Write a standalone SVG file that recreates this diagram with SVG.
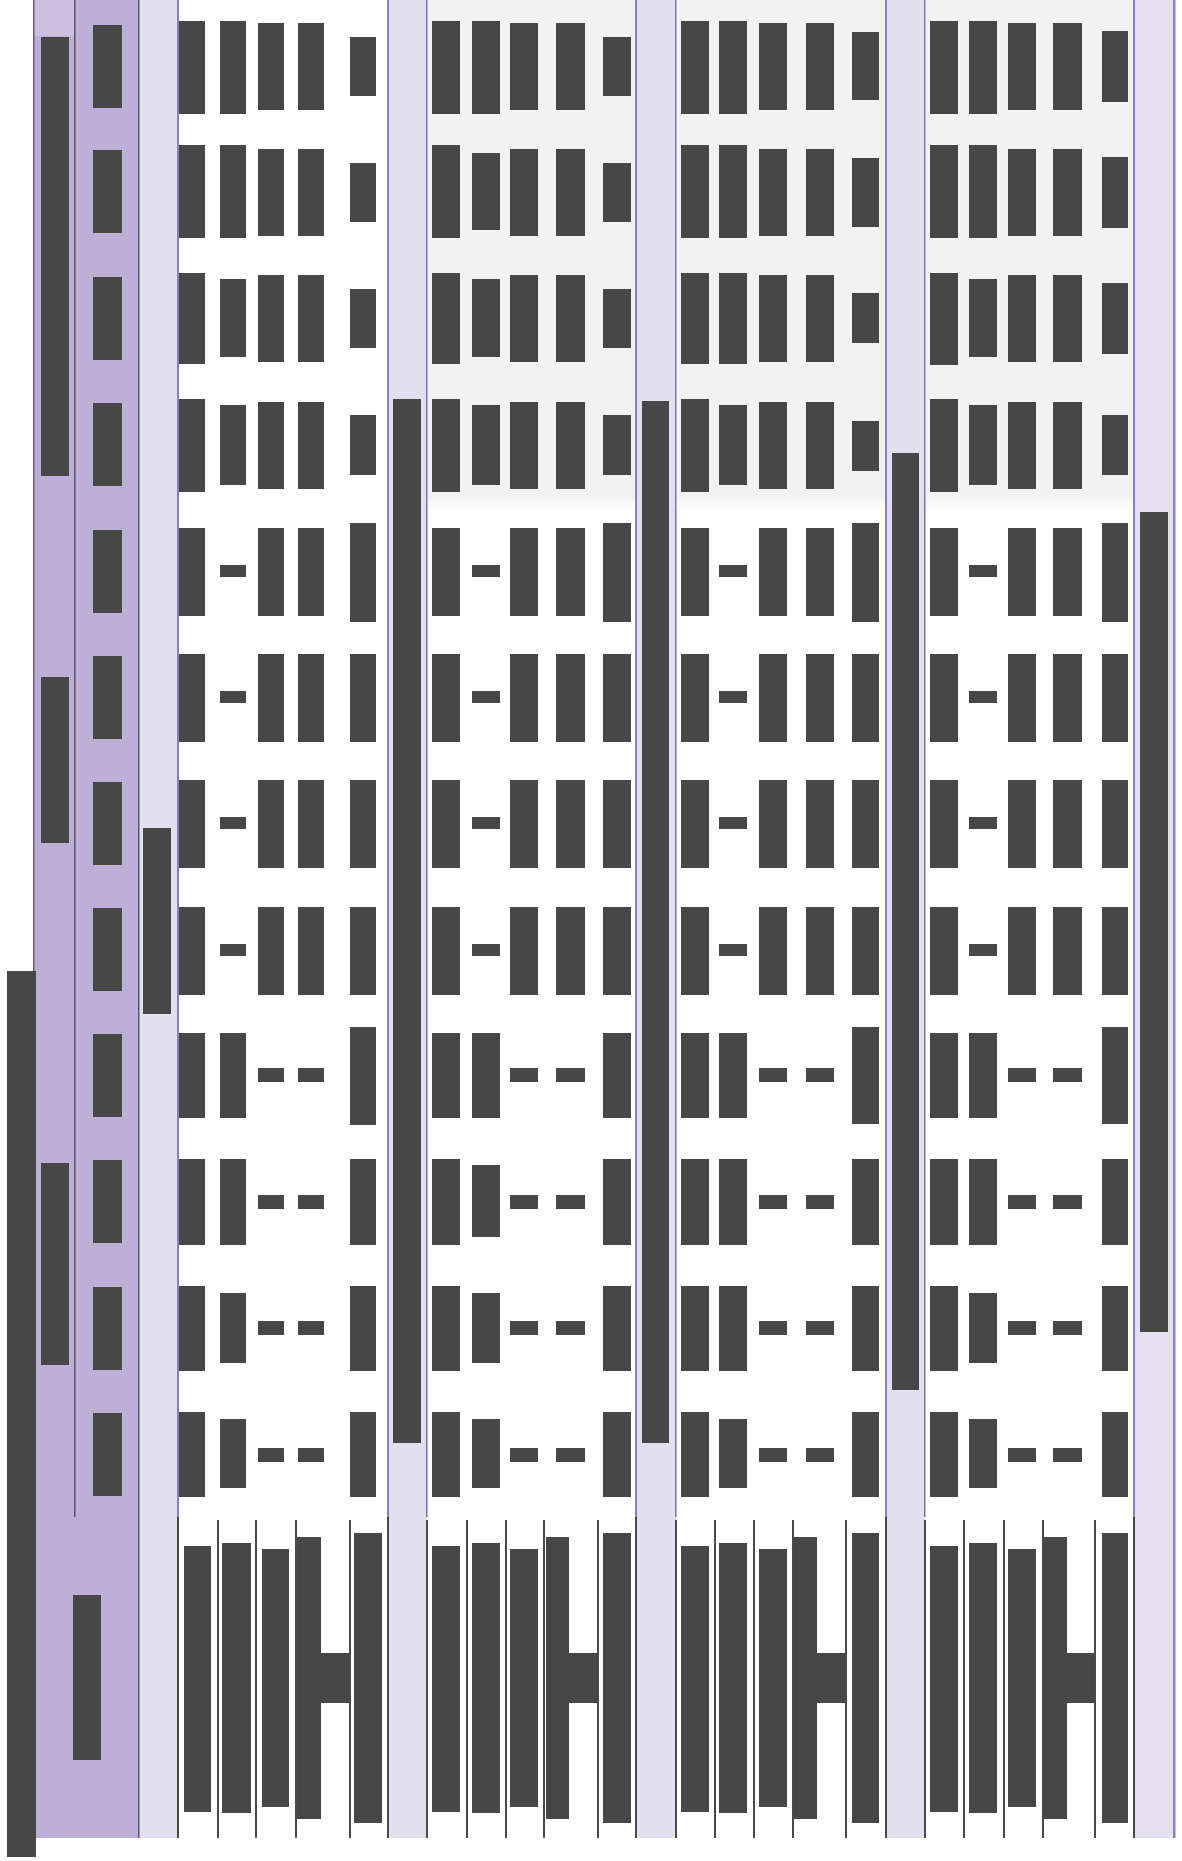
<svg xmlns="http://www.w3.org/2000/svg" width="1182" height="1861" viewBox="0 0 1182 1861">
<defs>
<style>
.d{fill:#474747}
.st{fill:#e2dfee}
.pb{fill:#8d7cc0}
.pt{fill:#7d6fae}
.ln{fill:#4a4a4a}
</style>
<linearGradient id="gray" x1="0" y1="0" x2="0" y2="1">
<stop offset="0" stop-color="#f2f2f2"/>
<stop offset="0.965" stop-color="#f2f2f2"/>
<stop offset="1" stop-color="#ffffff"/>
</linearGradient>
</defs>
<rect width="1182" height="1861" fill="#ffffff"/>

<g id="backgrounds">
<rect x="428" y="0" width="207" height="512" fill="url(#gray)"/>
<rect x="677" y="0" width="208" height="512" fill="url(#gray)"/>
<rect x="926" y="0" width="207" height="512" fill="url(#gray)"/>
<rect x="33" y="0" width="106" height="1838" fill="#bdb0d7"/>
<rect x="35" y="0" width="39" height="36" fill="#cbc0e0"/>
<rect x="139" y="0" width="38" height="1838" class="st"/>
<rect x="388" y="0" width="39" height="1838" class="st"/>
<rect x="636" y="0" width="40" height="1838" class="st"/>
<rect x="886" y="0" width="39" height="1838" class="st"/>
<rect x="1134" y="0" width="40" height="1838" fill="#e5e0ef"/>
</g>

<g id="borders">
<rect x="33" y="0" width="1.5" height="1838" fill="#6a5e86"/>
<rect x="74" y="0" width="1.5" height="1517" fill="#5b516e"/>
<rect x="138" y="0" width="1.5" height="1838" fill="#5b516e"/>
<rect x="177" y="0" width="2" height="1517" class="pb"/>
<rect x="387" y="0" width="2" height="1517" class="pb"/>
<rect x="426" y="0" width="1.5" height="1517" class="pt"/>
<rect x="635" y="0" width="2" height="1517" class="pb"/>
<rect x="675" y="0" width="1.5" height="1517" class="pt"/>
<rect x="885" y="0" width="2" height="1517" class="pb"/>
<rect x="924" y="0" width="1.5" height="1517" class="pt"/>
<rect x="1133" y="0" width="2" height="1517" class="pb"/>
<rect x="1173" y="0" width="2.5" height="1838" class="pb"/>
</g>

<g id="left-panel">
<rect class="d" x="7" y="971" width="29" height="886"/>
<rect class="d" x="41" y="37" width="28" height="439"/>
<rect class="d" x="41" y="677" width="28" height="166"/>
<rect class="d" x="41" y="1163" width="28" height="202"/>
<rect class="d" x="93" y="25" width="29" height="83"/>
<rect class="d" x="93" y="150" width="29" height="83"/>
<rect class="d" x="93" y="277" width="29" height="83"/>
<rect class="d" x="93" y="403" width="29" height="83"/>
<rect class="d" x="93" y="530" width="29" height="83"/>
<rect class="d" x="93" y="656" width="29" height="83"/>
<rect class="d" x="93" y="782" width="29" height="83"/>
<rect class="d" x="93" y="908" width="29" height="83"/>
<rect class="d" x="93" y="1034" width="29" height="83"/>
<rect class="d" x="93" y="1160" width="29" height="83"/>
<rect class="d" x="93" y="1287" width="29" height="83"/>
<rect class="d" x="93" y="1413" width="29" height="83"/>
<rect class="d" x="73" y="1595" width="28" height="165"/>
</g>

<g id="strip-bars">
<rect class="d" x="143" y="828" width="28" height="186"/>
<rect class="d" x="393" y="399" width="28" height="1044"/>
<rect class="d" x="642" y="401" width="27" height="1042"/>
<rect class="d" x="892" y="453" width="27" height="937"/>
<rect class="d" x="1140" y="512" width="28" height="820"/>
</g>

<g id="section-a">
<rect class="d" x="179" y="21" width="26" height="93"/><rect class="d" x="220" y="21" width="26" height="93"/><rect class="d" x="258" y="23" width="26" height="87"/><rect class="d" x="298" y="23" width="26" height="87"/><rect class="d" x="350" y="37" width="26" height="59"/>
<rect class="d" x="179" y="145" width="26" height="93"/><rect class="d" x="220" y="145" width="26" height="93"/><rect class="d" x="258" y="149" width="26" height="87"/><rect class="d" x="298" y="149" width="26" height="87"/><rect class="d" x="350" y="163" width="26" height="59"/>
<rect class="d" x="179" y="273" width="26" height="91"/><rect class="d" x="220" y="279" width="26" height="78"/><rect class="d" x="258" y="275" width="26" height="87"/><rect class="d" x="298" y="275" width="26" height="87"/><rect class="d" x="350" y="289" width="26" height="59"/>
<rect class="d" x="179" y="399" width="26" height="93"/><rect class="d" x="220" y="405" width="26" height="80"/><rect class="d" x="258" y="402" width="26" height="87"/><rect class="d" x="298" y="402" width="26" height="87"/><rect class="d" x="350" y="415" width="26" height="60"/>
<rect class="d" x="179" y="528" width="26" height="88"/><rect class="d" x="220" y="565" width="26" height="12"/><rect class="d" x="258" y="528" width="26" height="88"/><rect class="d" x="298" y="528" width="26" height="88"/><rect class="d" x="350" y="523" width="26" height="99"/>
<rect class="d" x="179" y="654" width="26" height="88"/><rect class="d" x="220" y="691" width="26" height="12"/><rect class="d" x="258" y="654" width="26" height="88"/><rect class="d" x="298" y="654" width="26" height="88"/><rect class="d" x="350" y="654" width="26" height="88"/>
<rect class="d" x="179" y="780" width="26" height="88"/><rect class="d" x="220" y="817" width="26" height="12"/><rect class="d" x="258" y="780" width="26" height="88"/><rect class="d" x="298" y="780" width="26" height="88"/><rect class="d" x="350" y="780" width="26" height="88"/>
<rect class="d" x="179" y="907" width="26" height="88"/><rect class="d" x="220" y="944" width="26" height="12"/><rect class="d" x="258" y="907" width="26" height="88"/><rect class="d" x="298" y="907" width="26" height="88"/><rect class="d" x="350" y="907" width="26" height="88"/>
<rect class="d" x="179" y="1033" width="26" height="85"/><rect class="d" x="220" y="1033" width="26" height="85"/><rect class="d" x="258" y="1068" width="26" height="14"/><rect class="d" x="298" y="1068" width="26" height="14"/><rect class="d" x="350" y="1027" width="26" height="98"/>
<rect class="d" x="179" y="1159" width="26" height="86"/><rect class="d" x="220" y="1159" width="26" height="86"/><rect class="d" x="258" y="1195" width="26" height="14"/><rect class="d" x="298" y="1195" width="26" height="14"/><rect class="d" x="350" y="1159" width="26" height="86"/>
<rect class="d" x="179" y="1286" width="26" height="85"/><rect class="d" x="220" y="1293" width="26" height="70"/><rect class="d" x="258" y="1321" width="26" height="14"/><rect class="d" x="298" y="1321" width="26" height="14"/><rect class="d" x="350" y="1286" width="26" height="85"/>
<rect class="d" x="179" y="1412" width="26" height="85"/><rect class="d" x="220" y="1419" width="26" height="69"/><rect class="d" x="258" y="1448" width="26" height="14"/><rect class="d" x="298" y="1448" width="26" height="14"/><rect class="d" x="350" y="1412" width="26" height="85"/>
</g>

<g id="section-b">
<rect class="d" x="432" y="21" width="28" height="93"/><rect class="d" x="472" y="21" width="28" height="93"/><rect class="d" x="510" y="23" width="28" height="87"/><rect class="d" x="556" y="23" width="29" height="87"/><rect class="d" x="603" y="37" width="28" height="59"/>
<rect class="d" x="432" y="145" width="28" height="93"/><rect class="d" x="472" y="153" width="28" height="77"/><rect class="d" x="510" y="149" width="28" height="87"/><rect class="d" x="556" y="149" width="29" height="87"/><rect class="d" x="603" y="163" width="28" height="59"/>
<rect class="d" x="432" y="273" width="28" height="91"/><rect class="d" x="472" y="279" width="28" height="78"/><rect class="d" x="510" y="275" width="28" height="87"/><rect class="d" x="556" y="275" width="29" height="87"/><rect class="d" x="603" y="289" width="28" height="59"/>
<rect class="d" x="432" y="399" width="28" height="93"/><rect class="d" x="472" y="405" width="28" height="80"/><rect class="d" x="510" y="402" width="28" height="87"/><rect class="d" x="556" y="402" width="29" height="87"/><rect class="d" x="603" y="415" width="28" height="60"/>
<rect class="d" x="432" y="528" width="28" height="88"/><rect class="d" x="472" y="565" width="28" height="12"/><rect class="d" x="510" y="528" width="28" height="88"/><rect class="d" x="556" y="528" width="29" height="88"/><rect class="d" x="603" y="523" width="28" height="99"/>
<rect class="d" x="432" y="654" width="28" height="88"/><rect class="d" x="472" y="691" width="28" height="12"/><rect class="d" x="510" y="654" width="28" height="88"/><rect class="d" x="556" y="654" width="29" height="88"/><rect class="d" x="603" y="654" width="28" height="88"/>
<rect class="d" x="432" y="780" width="28" height="88"/><rect class="d" x="472" y="817" width="28" height="12"/><rect class="d" x="510" y="780" width="28" height="88"/><rect class="d" x="556" y="780" width="29" height="88"/><rect class="d" x="603" y="780" width="28" height="88"/>
<rect class="d" x="432" y="907" width="28" height="88"/><rect class="d" x="472" y="944" width="28" height="12"/><rect class="d" x="510" y="907" width="28" height="88"/><rect class="d" x="556" y="907" width="29" height="88"/><rect class="d" x="603" y="907" width="28" height="88"/>
<rect class="d" x="432" y="1033" width="28" height="85"/><rect class="d" x="472" y="1033" width="28" height="85"/><rect class="d" x="510" y="1068" width="28" height="14"/><rect class="d" x="556" y="1068" width="29" height="14"/><rect class="d" x="603" y="1033" width="28" height="85"/>
<rect class="d" x="432" y="1159" width="28" height="86"/><rect class="d" x="472" y="1165" width="28" height="72"/><rect class="d" x="510" y="1195" width="28" height="14"/><rect class="d" x="556" y="1195" width="29" height="14"/><rect class="d" x="603" y="1159" width="28" height="86"/>
<rect class="d" x="432" y="1286" width="28" height="85"/><rect class="d" x="472" y="1293" width="28" height="70"/><rect class="d" x="510" y="1321" width="28" height="14"/><rect class="d" x="556" y="1321" width="29" height="14"/><rect class="d" x="603" y="1286" width="28" height="85"/>
<rect class="d" x="432" y="1412" width="28" height="85"/><rect class="d" x="472" y="1419" width="28" height="69"/><rect class="d" x="510" y="1448" width="28" height="14"/><rect class="d" x="556" y="1448" width="29" height="14"/><rect class="d" x="603" y="1412" width="28" height="85"/>
</g>

<g id="section-c">
<rect class="d" x="681" y="21" width="28" height="93"/><rect class="d" x="719" y="21" width="28" height="93"/><rect class="d" x="759" y="23" width="28" height="87"/><rect class="d" x="806" y="23" width="28" height="87"/><rect class="d" x="852" y="32" width="27" height="68"/>
<rect class="d" x="681" y="145" width="28" height="93"/><rect class="d" x="719" y="145" width="28" height="93"/><rect class="d" x="759" y="149" width="28" height="87"/><rect class="d" x="806" y="149" width="28" height="87"/><rect class="d" x="852" y="158" width="27" height="69"/>
<rect class="d" x="681" y="273" width="28" height="91"/><rect class="d" x="719" y="273" width="28" height="91"/><rect class="d" x="759" y="275" width="28" height="87"/><rect class="d" x="806" y="275" width="28" height="87"/><rect class="d" x="852" y="293" width="27" height="50"/>
<rect class="d" x="681" y="399" width="28" height="93"/><rect class="d" x="719" y="405" width="28" height="80"/><rect class="d" x="759" y="402" width="28" height="87"/><rect class="d" x="806" y="402" width="28" height="87"/><rect class="d" x="852" y="421" width="27" height="50"/>
<rect class="d" x="681" y="528" width="28" height="88"/><rect class="d" x="719" y="565" width="28" height="12"/><rect class="d" x="759" y="528" width="28" height="88"/><rect class="d" x="806" y="528" width="28" height="88"/><rect class="d" x="852" y="523" width="27" height="99"/>
<rect class="d" x="681" y="654" width="28" height="88"/><rect class="d" x="719" y="691" width="28" height="12"/><rect class="d" x="759" y="654" width="28" height="88"/><rect class="d" x="806" y="654" width="28" height="88"/><rect class="d" x="852" y="654" width="27" height="88"/>
<rect class="d" x="681" y="780" width="28" height="88"/><rect class="d" x="719" y="817" width="28" height="12"/><rect class="d" x="759" y="780" width="28" height="88"/><rect class="d" x="806" y="780" width="28" height="88"/><rect class="d" x="852" y="780" width="27" height="88"/>
<rect class="d" x="681" y="907" width="28" height="88"/><rect class="d" x="719" y="944" width="28" height="12"/><rect class="d" x="759" y="907" width="28" height="88"/><rect class="d" x="806" y="907" width="28" height="88"/><rect class="d" x="852" y="907" width="27" height="88"/>
<rect class="d" x="681" y="1033" width="28" height="85"/><rect class="d" x="719" y="1033" width="28" height="85"/><rect class="d" x="759" y="1068" width="28" height="14"/><rect class="d" x="806" y="1068" width="28" height="14"/><rect class="d" x="852" y="1027" width="27" height="97"/>
<rect class="d" x="681" y="1159" width="28" height="86"/><rect class="d" x="719" y="1159" width="28" height="86"/><rect class="d" x="759" y="1195" width="28" height="14"/><rect class="d" x="806" y="1195" width="28" height="14"/><rect class="d" x="852" y="1159" width="27" height="86"/>
<rect class="d" x="681" y="1286" width="28" height="85"/><rect class="d" x="719" y="1286" width="28" height="85"/><rect class="d" x="759" y="1321" width="28" height="14"/><rect class="d" x="806" y="1321" width="28" height="14"/><rect class="d" x="852" y="1286" width="27" height="85"/>
<rect class="d" x="681" y="1412" width="28" height="85"/><rect class="d" x="719" y="1419" width="28" height="69"/><rect class="d" x="759" y="1448" width="28" height="14"/><rect class="d" x="806" y="1448" width="28" height="14"/><rect class="d" x="852" y="1412" width="27" height="85"/>
</g>

<g id="section-d">
<rect class="d" x="930" y="21" width="28" height="93"/><rect class="d" x="969" y="21" width="28" height="93"/><rect class="d" x="1008" y="23" width="28" height="87"/><rect class="d" x="1053" y="23" width="29" height="87"/><rect class="d" x="1102" y="31" width="26" height="71"/>
<rect class="d" x="930" y="145" width="28" height="93"/><rect class="d" x="969" y="145" width="28" height="93"/><rect class="d" x="1008" y="149" width="28" height="87"/><rect class="d" x="1053" y="149" width="29" height="87"/><rect class="d" x="1102" y="157" width="26" height="71"/>
<rect class="d" x="930" y="273" width="28" height="92"/><rect class="d" x="969" y="279" width="28" height="78"/><rect class="d" x="1008" y="275" width="28" height="87"/><rect class="d" x="1053" y="275" width="29" height="87"/><rect class="d" x="1102" y="283" width="26" height="71"/>
<rect class="d" x="930" y="399" width="28" height="93"/><rect class="d" x="969" y="405" width="28" height="80"/><rect class="d" x="1008" y="402" width="28" height="87"/><rect class="d" x="1053" y="402" width="29" height="87"/><rect class="d" x="1102" y="415" width="26" height="60"/>
<rect class="d" x="930" y="528" width="28" height="88"/><rect class="d" x="969" y="565" width="28" height="12"/><rect class="d" x="1008" y="528" width="28" height="88"/><rect class="d" x="1053" y="528" width="29" height="88"/><rect class="d" x="1102" y="523" width="26" height="99"/>
<rect class="d" x="930" y="654" width="28" height="88"/><rect class="d" x="969" y="691" width="28" height="12"/><rect class="d" x="1008" y="654" width="28" height="88"/><rect class="d" x="1053" y="654" width="29" height="88"/><rect class="d" x="1102" y="654" width="26" height="88"/>
<rect class="d" x="930" y="780" width="28" height="88"/><rect class="d" x="969" y="817" width="28" height="12"/><rect class="d" x="1008" y="780" width="28" height="88"/><rect class="d" x="1053" y="780" width="29" height="88"/><rect class="d" x="1102" y="780" width="26" height="88"/>
<rect class="d" x="930" y="907" width="28" height="88"/><rect class="d" x="969" y="944" width="28" height="12"/><rect class="d" x="1008" y="907" width="28" height="88"/><rect class="d" x="1053" y="907" width="29" height="88"/><rect class="d" x="1102" y="907" width="26" height="88"/>
<rect class="d" x="930" y="1033" width="28" height="85"/><rect class="d" x="969" y="1033" width="28" height="85"/><rect class="d" x="1008" y="1068" width="28" height="14"/><rect class="d" x="1053" y="1068" width="29" height="14"/><rect class="d" x="1102" y="1027" width="26" height="97"/>
<rect class="d" x="930" y="1159" width="28" height="86"/><rect class="d" x="969" y="1159" width="28" height="86"/><rect class="d" x="1008" y="1195" width="28" height="14"/><rect class="d" x="1053" y="1195" width="29" height="14"/><rect class="d" x="1102" y="1159" width="26" height="86"/>
<rect class="d" x="930" y="1286" width="28" height="85"/><rect class="d" x="969" y="1293" width="28" height="70"/><rect class="d" x="1008" y="1321" width="28" height="14"/><rect class="d" x="1053" y="1321" width="29" height="14"/><rect class="d" x="1102" y="1286" width="26" height="85"/>
<rect class="d" x="930" y="1412" width="28" height="85"/><rect class="d" x="969" y="1419" width="28" height="69"/><rect class="d" x="1008" y="1448" width="28" height="14"/><rect class="d" x="1053" y="1448" width="29" height="14"/><rect class="d" x="1102" y="1412" width="26" height="85"/>
</g>

<g id="bottom-lines">
<rect class="ln" x="177" y="1517" width="2" height="321"/>
<rect class="ln" x="217" y="1520" width="2" height="318"/>
<rect class="ln" x="255" y="1520" width="2" height="318"/>
<rect class="ln" x="295" y="1520" width="2" height="318"/>
<rect class="ln" x="349" y="1520" width="2" height="318"/>
<rect class="ln" x="387" y="1517" width="2" height="321"/>
<rect class="ln" x="426" y="1520" width="2" height="318"/>
<rect class="ln" x="466" y="1520" width="2" height="318"/>
<rect class="ln" x="505" y="1520" width="2" height="318"/>
<rect class="ln" x="543" y="1520" width="2" height="318"/>
<rect class="ln" x="597" y="1520" width="2" height="318"/>
<rect class="ln" x="635" y="1517" width="2" height="321"/>
<rect class="ln" x="675" y="1520" width="2" height="318"/>
<rect class="ln" x="714" y="1520" width="2" height="318"/>
<rect class="ln" x="753" y="1520" width="2" height="318"/>
<rect class="ln" x="792" y="1520" width="2" height="318"/>
<rect class="ln" x="845" y="1520" width="2" height="318"/>
<rect class="ln" x="885" y="1517" width="2" height="321"/>
<rect class="ln" x="924" y="1520" width="2" height="318"/>
<rect class="ln" x="963" y="1520" width="2" height="318"/>
<rect class="ln" x="1003" y="1520" width="2" height="318"/>
<rect class="ln" x="1042" y="1520" width="2" height="318"/>
<rect class="ln" x="1094" y="1520" width="2" height="318"/>
<rect class="ln" x="1133" y="1517" width="2" height="321"/>
</g>

<g id="bottom-bars">
<rect class="d" x="184" y="1546" width="27" height="266"/><rect class="d" x="222" y="1543" width="29" height="270"/><rect class="d" x="262" y="1549" width="27" height="258"/><rect class="d" x="297" y="1537" width="24" height="282"/><rect class="d" x="321" y="1653" width="28" height="50"/><rect class="d" x="354" y="1533" width="28" height="290"/>
<rect class="d" x="432" y="1546" width="28" height="266"/><rect class="d" x="472" y="1543" width="28" height="270"/><rect class="d" x="510" y="1549" width="28" height="258"/><rect class="d" x="546" y="1537" width="23" height="282"/><rect class="d" x="569" y="1653" width="29" height="50"/><rect class="d" x="603" y="1533" width="28" height="290"/>
<rect class="d" x="681" y="1546" width="28" height="266"/><rect class="d" x="719" y="1543" width="28" height="270"/><rect class="d" x="759" y="1549" width="28" height="258"/><rect class="d" x="793" y="1537" width="24" height="282"/><rect class="d" x="817" y="1653" width="28" height="50"/><rect class="d" x="852" y="1533" width="27" height="290"/>
<rect class="d" x="930" y="1546" width="28" height="266"/><rect class="d" x="969" y="1543" width="28" height="270"/><rect class="d" x="1008" y="1549" width="28" height="258"/><rect class="d" x="1043" y="1537" width="24" height="282"/><rect class="d" x="1067" y="1653" width="28" height="50"/><rect class="d" x="1102" y="1533" width="26" height="290"/>
</g>
</svg>
